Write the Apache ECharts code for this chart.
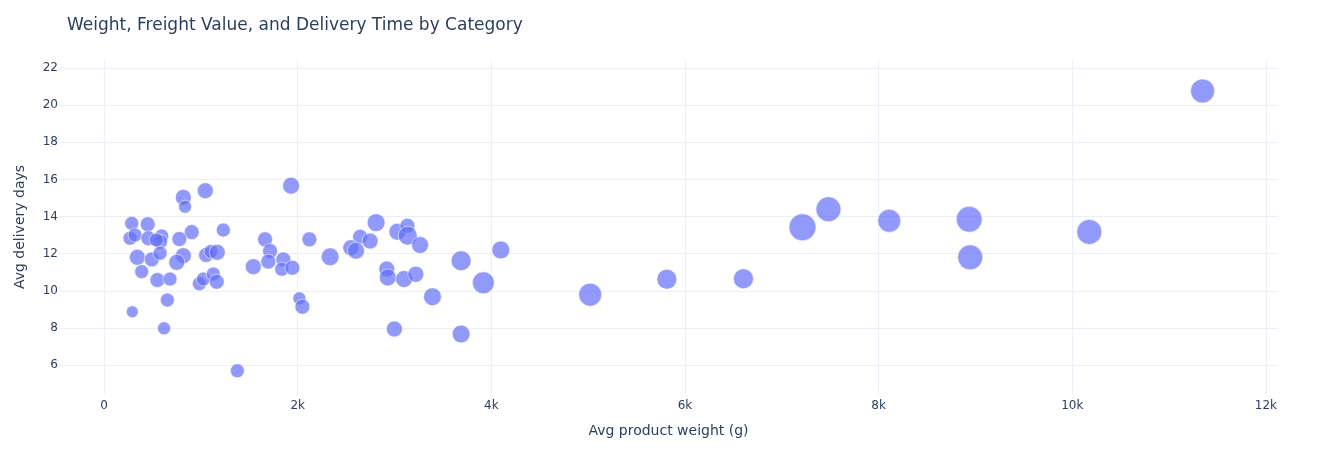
<!DOCTYPE html>
<html>
<head>
<meta charset="utf-8">
<script src="https://cdn.jsdelivr.net/npm/echarts@6/dist/echarts.min.js"></script>
<style>
html,body{margin:0;padding:0;background:#fff;}
#chart{width:1318px;height:450px;}
</style>
</head>
<body>
<div id="chart"></div>
<script>
// Avg product weight (g)
const weights = [286, 451, 269, 320, 458, 596, 579, 541, 819, 837, 1046, 906, 778, 1232,
  344, 493, 579, 819, 751, 389, 551, 682, 1054, 1105, 1170, 985, 1026, 1129, 1164, 654, 292, 620,
  1932, 1663, 1715, 1542, 1697, 1852, 1836, 1945, 2121, 2018, 2049, 1377,
  2335, 2645, 2549, 2603, 2748, 2810, 3030, 3133, 3137, 3264, 2920, 2931, 3099, 3220, 3392, 2999,
  3688, 3918, 3688, 4098,
  5021, 5813, 6604, 7214, 7482, 8110, 8936, 8946, 10176, 11346];
// Avg delivery days
const days = [13.63, 13.58, 12.83, 13.00, 12.83, 12.95, 12.64, 12.74, 15.03, 14.53, 15.39, 13.16, 12.79, 13.27,
  11.80, 11.69, 12.02, 11.89, 11.53, 11.03, 10.58, 10.63, 11.93, 12.12, 12.07, 10.38, 10.63, 10.90, 10.49, 9.50, 8.87, 7.98,
  15.66, 12.77, 12.14, 11.30, 11.57, 11.69, 11.16, 11.24, 12.77, 9.59, 9.14, 5.69,
  11.83, 12.91, 12.32, 12.16, 12.68, 13.67, 13.18, 13.50, 12.97, 12.46, 11.17, 10.72, 10.63, 10.89, 9.68, 7.94,
  11.62, 10.43, 7.67, 12.20,
  9.79, 10.62, 10.65, 13.42, 14.39, 13.77, 13.85, 11.80, 13.17, 20.76];
// Avg freight value (bubble size)
const freight = [12.3, 14.0, 12.3, 12.3, 14.0, 12.3, 14.0, 12.3, 16.0, 10.6, 16.0, 14.0, 14.0, 12.3,
  16.0, 14.0, 12.3, 16.0, 16.0, 12.3, 14.0, 12.3, 14.0, 12.3, 16.0, 12.3, 12.3, 12.3, 14.0, 12.3, 9.0, 10.6,
  18.0, 14.0, 14.0, 16.0, 14.0, 14.0, 12.3, 14.0, 14.0, 10.6, 14.0, 12.3,
  20.0, 14.0, 16.0, 18.0, 16.0, 20.0, 18.0, 14.0, 22.6, 18.0, 16.0, 18.0, 18.0, 16.0, 20.0, 16.0,
  25.0, 30.0, 20.0, 20.0,
  33.0, 25.0, 25.0, 45.6, 39.0, 33.0, 42.0, 39.0, 39.0, 36.0];
const xTicks = [0, 2000, 4000, 6000, 8000, 10000, 12000];
const yTicks = [6, 8, 10, 12, 14, 16, 18, 20, 22];

const points = weights.map((w, i) => [w, days[i], freight[i]]);
const textColor = '#2a3f5f';
const gridColor = '#EBF0F8';
const font = '"DejaVu Sans", verdana, arial, sans-serif';

const chart = echarts.init(document.getElementById('chart'), null, {renderer: 'canvas'});
chart.setOption({
  backgroundColor: '#fff',
  animation: false,
  title: {
    text: 'Weight, Freight Value, and Delivery Time by Category',
    left: 62, top: 12,
    textStyle: {color: textColor, fontSize: 17, fontWeight: 'normal', fontFamily: font}
  },
  grid: {left: 59, right: 40, top: 60, bottom: 56, containLabel: false},
  xAxis: {
    type: 'value', min: -465, max: 12125,
    name: 'Avg product weight (g)', nameLocation: 'middle', nameGap: 30,
    nameTextStyle: {color: textColor, fontSize: 14, fontFamily: font},
    axisLine: {show: false},
    axisTick: {show: false, customValues: xTicks},
    axisLabel: {customValues: xTicks, color: textColor, fontSize: 12, fontFamily: font, margin: 6,
      formatter: v => v === 0 ? '0' : (v / 1000) + 'k'},
    splitLine: {show: true, lineStyle: {color: gridColor, width: 1}}
  },
  yAxis: {
    type: 'value', min: 4.44, max: 22.43,
    name: 'Avg delivery days', nameLocation: 'middle', nameGap: 32, nameRotate: 90,
    nameTextStyle: {color: textColor, fontSize: 14, fontFamily: font},
    axisLine: {show: false},
    axisTick: {show: false, customValues: yTicks},
    axisLabel: {customValues: yTicks, color: textColor, fontSize: 12, fontFamily: font, margin: 1},
    splitLine: {show: true, lineStyle: {color: gridColor, width: 1}}
  },
  series: [{
    type: 'scatter',
    data: points,
    symbolSize: v => Math.sqrt(v[2]) * 4,
    itemStyle: {color: '#636efa', opacity: 0.7, borderColor: '#ffffff', borderWidth: 0.8}
  }]
});
</script>
</body>
</html>
